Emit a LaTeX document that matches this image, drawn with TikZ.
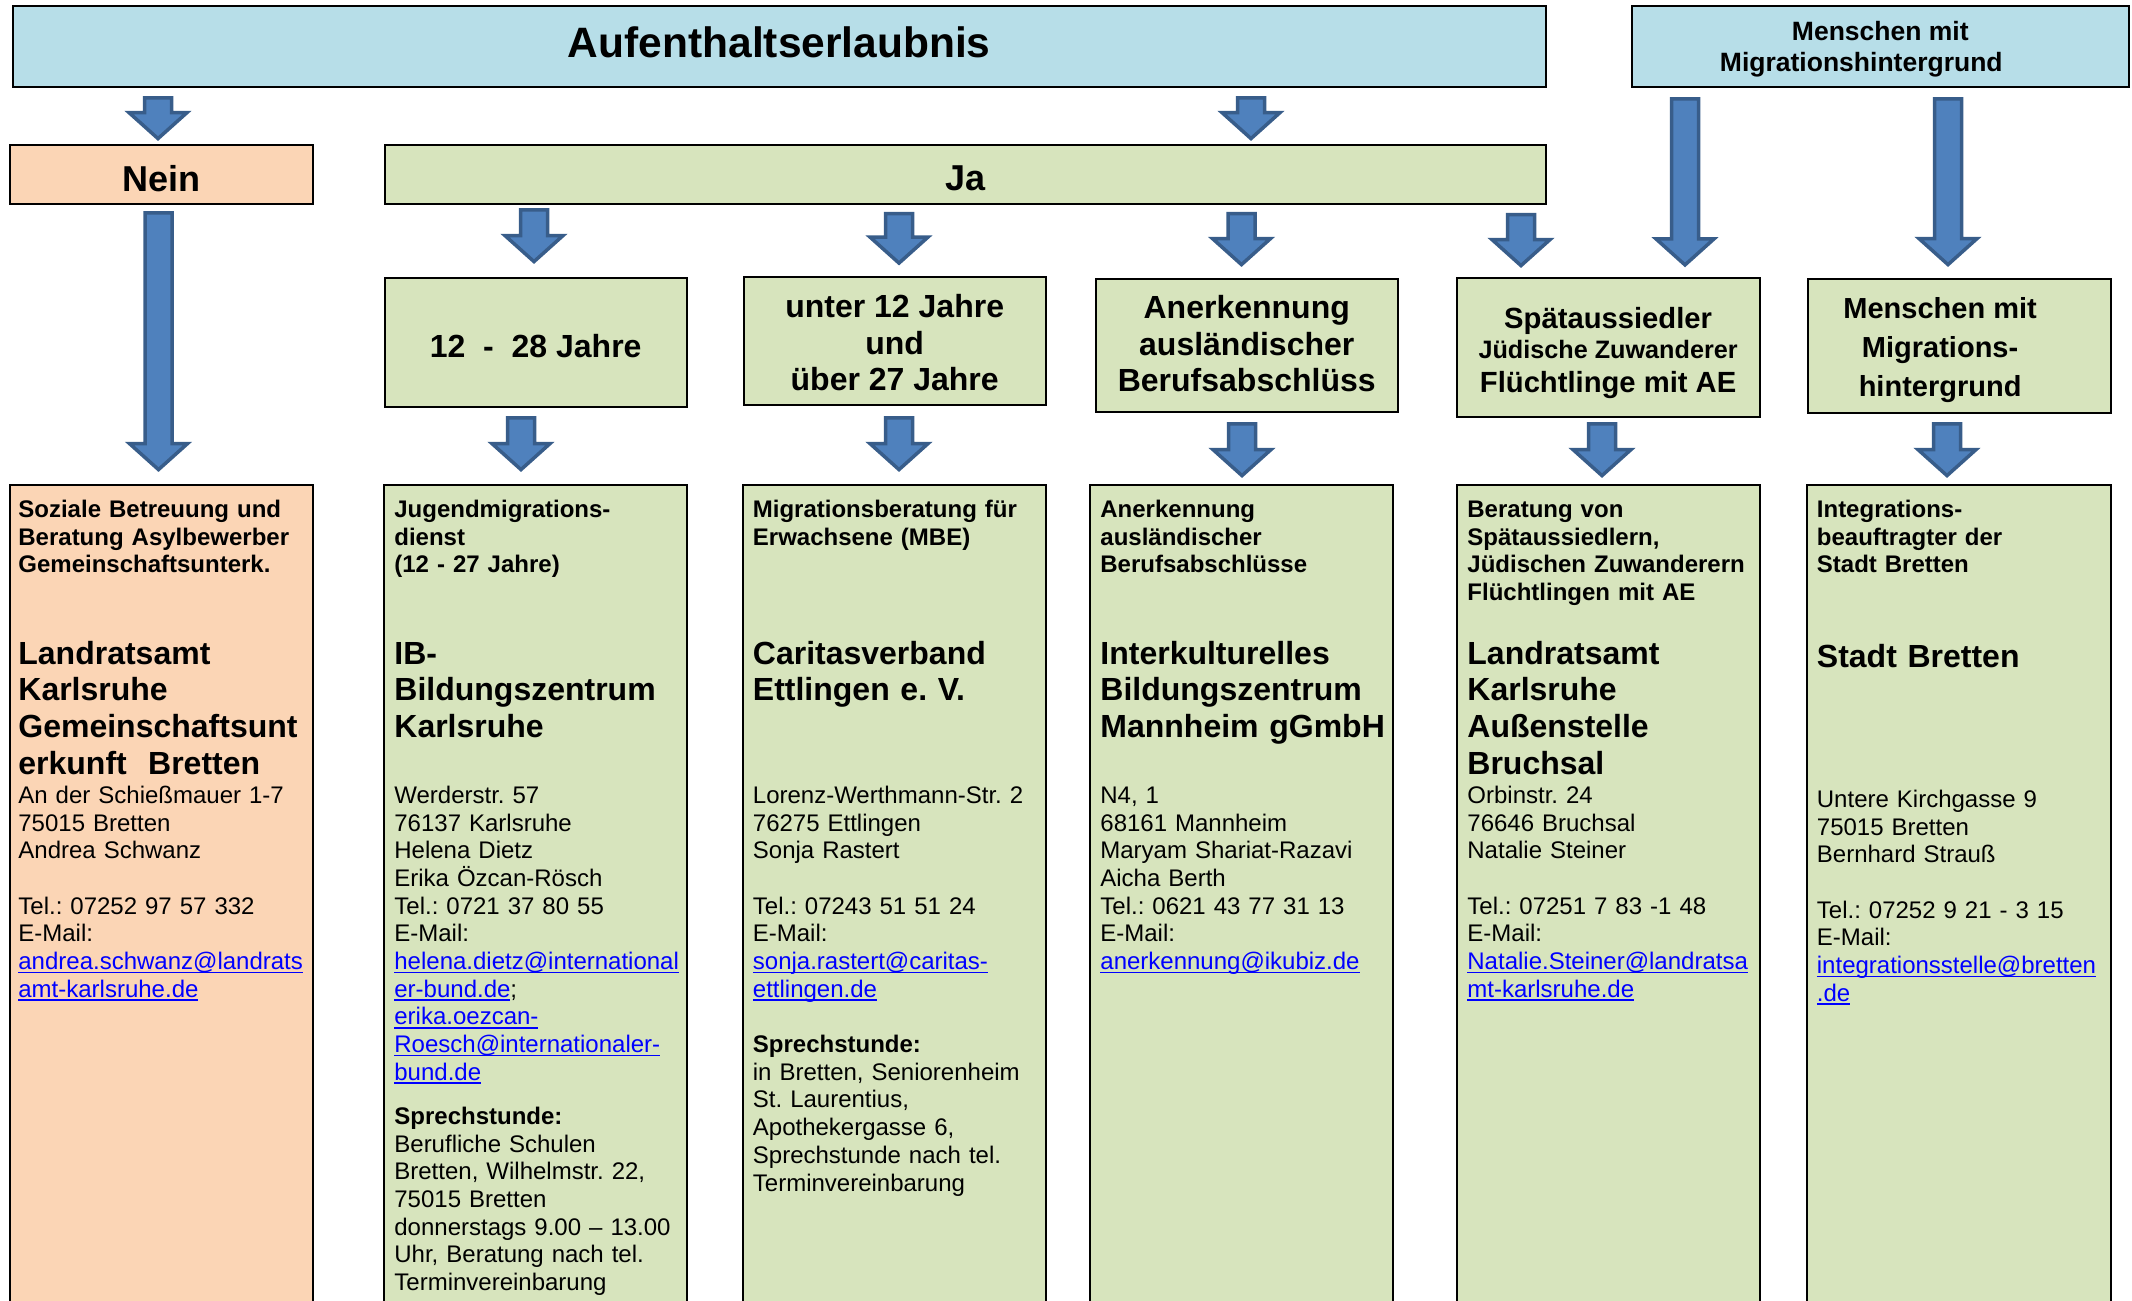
\documentclass[tikz,border=0pt]{standalone}
\usepackage{fontspec}
\setmainfont{Liberation Sans}
\usetikzlibrary{calc}
\frenchspacing

\definecolor{aquafill}{HTML}{B7DEE8}
\definecolor{peachfill}{HTML}{FBD5B5}
\definecolor{olivefill}{HTML}{D7E4BD}
\definecolor{arrowfill}{HTML}{4F81BD}
\definecolor{arrowline}{HTML}{385D8A}
\definecolor{linkblue}{HTML}{0000FF}

\newcommand{\maillink}[1]{\textcolor{linkblue}{\setbox0=\hbox{#1}\rlap{\rule[-1.8pt]{\wd0}{0.8pt}}\box0}}

\tikzset{
    cell/.style={draw, line width=1pt, inner sep=0pt},
    bluecell/.style={cell, fill=aquafill, minimum height=40.5pt},
    nocell/.style={cell, fill=peachfill},
    yescell/.style={cell, fill=olivefill},
    celltext/.style={inner sep=0pt, align=center, font=\bfseries},
    answer/.style={celltext, font=\fontsize{18}{20}\selectfont\bfseries},
    grouptext/.style={celltext, font=\fontsize{16}{18.36}\selectfont\bfseries},
    groupcell/.style={yescell, minimum width=151pt},
    listcell/.style={cell, anchor=north, minimum width=151.5pt, minimum height=420pt},
    hdr/.style={anchor=base west, inner sep=0pt, text width=152pt, align=left, font=\fontsize{12}{13.8}\selectfont\bfseries},
    orgname/.style={hdr, font=\fontsize{16}{18.36}\selectfont\bfseries},
    info/.style={hdr, font=\fontsize{12}{13.84}\selectfont},
    blockarrow/.style n args={3}{draw=arrowline, fill=arrowfill, line width=1.75pt,
        to path={let \p1=(\tikztostart.south), \p2=(\tikztotarget.north), \p3=(#1,0) in
            (\x3-6.75pt,\y1-#2-0.9pt) -- (\x3+6.75pt,\y1-#2-0.9pt) -- (\x3+6.75pt,\y2+#3+14.2pt)
            -- (\x3+14.5pt,\y2+#3+14.2pt) -- (\x3,\y2+#3+1.2pt) -- (\x3-14.5pt,\y2+#3+14.2pt)
            -- (\x3-6.75pt,\y2+#3+14.2pt) -- cycle}}
}

\begin{document}
\begin{tikzpicture}[x=0.5pt, y=-0.5pt]
\useasboundingbox (0,0) rectangle (2132,1301);
\clip (0,0) rectangle (2132,1301);

\node[bluecell, minimum width=766.25pt] (aufenthalt) at (779.25,46.5) {};
\node[anchor=base, inner sep=0pt, font=\fontsize{21.25}{25}\selectfont\bfseries] (aufenthalttext) at (779.25,57.7) {Aufenthaltserlaubnis};
\node[bluecell, minimum width=248.7pt] (mmhtop) at (1880.3,46.35) {};
\node[celltext, font=\fontsize{13.25}{15.5}\selectfont\bfseries] (mmhtoptext) at ([yshift=-1.35pt]mmhtop.center) {Menschen mit\\Migrationshintergrund\rule{19pt}{0pt}};

\node[nocell, minimum width=151.6pt, minimum height=29.5pt] (nein) at (161.1,174.5) {};
\node[answer] (neintext) at ([yshift=-2pt]nein.center) {Nein};
\node[yescell, minimum width=580.6pt, minimum height=29.25pt] (ja) at (965.4,174.25) {};
\node[answer] (jatext) at ([yshift=-2pt]ja.center) {Ja};

\node[groupcell, minimum width=150.9pt, minimum height=64.4pt] (jahre1228) at (535.7,342.1) {};
\node[grouptext] (jahre1228text) at ([yshift=-2pt]jahre1228.center) {12\ \ -\ \ 28 Jahre};
\node[groupcell, minimum height=63.95pt] (jahre1227) at (894.7,341.35) {};
\node[grouptext] (jahre1227text) at ([yshift=-0.7pt]jahre1227.center) {unter 12 Jahre\\und\\über 27 Jahre};
\node[groupcell, minimum height=66.35pt] (anerk) at (1246.75,345.35) {};
\node[grouptext] (anerktext) at ([yshift=0.8pt]anerk.center) {Anerkennung\\ausländischer\\Berufsabschlüss};
\node[groupcell, minimum width=151.4pt, minimum height=69.2pt] (spaet) at (1608.1,347.5) {};
\node[grouptext, font=\fontsize{14.6}{15}\selectfont\bfseries] (spaettext) at ([yshift=-2.75pt]spaet.center) {Spätaussiedler\\{\fontsize{12.6}{15}\selectfont Jüdische Zuwanderer}\\[2pt]Flüchtlinge mit AE};
\node[groupcell, minimum width=151.6pt, minimum height=67pt] (mmh) at (1959.1,346.3) {};
\node[grouptext, font=\fontsize{14.5}{19.4}\selectfont\bfseries] (mmhtext) at ([yshift=-1.75pt]mmh.center) {Menschen mit\rule{19pt}{0pt}\\Migrations-\rule{19pt}{0pt}\\hintergrund\rule{19pt}{0pt}};

\node[listcell, fill=peachfill] (asyl) at (161,484) {};
\node[listcell, fill=olivefill] (jmd) at (535.65,484) {};
\node[listcell, fill=olivefill] (mbe) at (894.65,484) {};
\node[listcell, fill=olivefill] (ikubiz) at (1241.95,484) {};
\node[listcell, fill=olivefill] (lra) at (1608.65,484) {};
\node[listcell, fill=olivefill, minimum width=152.1pt] (integ) at (1958.8,484) {};

\draw[blockarrow={158}{4pt}{1.5pt}] (aufenthalt) to (nein);
\draw[blockarrow={1251}{4pt}{1.5pt}] (aufenthalt) to (ja);
\draw[blockarrow={158.5}{3pt}{6pt}] (nein) to (asyl);
\draw[blockarrow={534}{1.75pt}{6.35pt}] (ja) to (jahre1228);
\draw[blockarrow={899}{3.65pt}{5.45pt}] (ja) to (jahre1227);
\draw[blockarrow={1241.5}{3.65pt}{5.5pt}] (ja) to (anerk);
\draw[blockarrow={1521}{4.1pt}{4.65pt}] (ja) to (spaet);
\draw[blockarrow={1685}{4.65pt}{5pt}] (mmhtop) to (spaet);
\draw[blockarrow={1948}{4.65pt}{5.65pt}] (mmhtop) to (mmh);
\draw[blockarrow={521}{4.25pt}{6pt}] (jahre1228) to (jmd);
\draw[blockarrow={899}{4.85pt}{6pt}] (jahre1227) to (mbe);
\draw[blockarrow={1242}{4.65pt}{3pt}] (anerk) to (ikubiz);
\draw[blockarrow={1602}{2.15pt}{3pt}] (spaet) to (lra);
\draw[blockarrow={1947}{3.85pt}{3pt}] (mmh) to (integ);

\node[hdr] (asylhead) at (18,517.5) {Soziale Betreuung und\\Beratung Asylbewerber\\Gemeinschaftsunterk.};
\node[orgname] (asylname) at (18,664) {Landratsamt\\Karlsruhe\\Gemeinschaftsunt\\erkunft\ \ Bretten};
\node[info] (asylinfo) at (18,803.5) {An der Schießmauer 1-7\\75015 Bretten\\Andrea Schwanz\\[13.84pt]Tel.: 07252 97 57 332\\E-Mail:\\\maillink{andrea.schwanz@landrats}\\\maillink{amt-karlsruhe.de}};

\node[hdr] (jmdhead) at (394,517.5) {Jugendmigrations-\\dienst\\(12 - 27 Jahre)};
\node[orgname] (jmdname) at (394,664) {IB-\\Bildungszentrum\\Karlsruhe};
\node[info] (jmdinfo) at (394,803.5) {Werderstr. 57\\76137 Karlsruhe\\Helena Dietz\\Erika Özcan-Rösch\\Tel.: 0721 37 80 55\\E-Mail:\\\maillink{helena.dietz@international}\\\maillink{er-bund.de};\\\maillink{erika.oezcan-}\\\maillink{Roesch@internationaler-}\\\maillink{bund.de}\\[8.2pt]\textbf{Sprechstunde:}\\Berufliche Schulen\\Bretten, Wilhelmstr. 22,\\75015 Bretten\\donnerstags 9.00 – 13.00\\Uhr, Beratung nach tel.\\Terminvereinbarung};

\node[hdr] (mbehead) at (752.5,517.5) {Migrationsberatung für\\Erwachsene (MBE)};
\node[orgname] (mbename) at (752.5,664) {Caritasverband\\Ettlingen e. V.};
\node[info] (mbeinfo) at (752.5,803.5) {Lorenz-Werthmann-Str. 2\\76275 Ettlingen\\Sonja Rastert\\[13.84pt]Tel.: 07243 51 51 24\\E-Mail:\\\maillink{sonja.rastert@caritas-}\\\maillink{ettlingen.de}\\[13.84pt]\textbf{Sprechstunde:}\\in Bretten, Seniorenheim\\St. Laurentius,\\Apothekergasse 6,\\Sprechstunde nach tel.\\Terminvereinbarung};

\node[hdr] (ikubizhead) at (1100,517.5) {Anerkennung\\ausländischer\\Berufsabschlüsse};
\node[orgname] (ikubizname) at (1100,664) {Interkulturelles\\Bildungszentrum\\Mannheim gGmbH};
\node[info] (ikubizinfo) at (1100,803.5) {N4, 1\\68161 Mannheim\\Maryam Shariat-Razavi\\Aicha Berth\\Tel.: 0621 43 77 31 13\\E-Mail:\\\maillink{anerkennung@ikubiz.de}};

\node[hdr] (lrahead) at (1467,517.5) {Beratung von\\Spätaussiedlern,\\Jüdischen Zuwanderern\\Flüchtlingen mit AE};
\node[orgname] (lraname) at (1467,664) {Landratsamt\\Karlsruhe\\Außenstelle\\Bruchsal};
\node[info] (lrainfo) at (1467,803.5) {Orbinstr. 24\\76646 Bruchsal\\Natalie Steiner\\[13.84pt]Tel.: 07251 7 83 -1 48\\E-Mail:\\\maillink{Natalie.Steiner@landratsa}\\\maillink{mt-karlsruhe.de}};

\node[hdr] (integhead) at (1816.5,517.5) {Integrations-\\beauftragter der\\Stadt Bretten};
\node[orgname] (integname) at (1816.5,667) {Stadt Bretten};
\node[info] (integinfo) at (1816.5,807.5) {Untere Kirchgasse 9\\75015 Bretten\\Bernhard Strauß\\[13.84pt]Tel.: 07252 9 21 - 3 15\\E-Mail:\\\maillink{integrationsstelle@bretten}\\\maillink{.de}};
\end{tikzpicture}
\end{document}
